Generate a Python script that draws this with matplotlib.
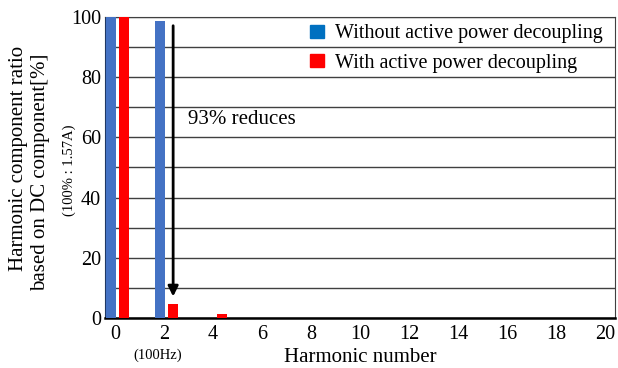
import numpy as np
import matplotlib
matplotlib.use("Agg")
import matplotlib.pyplot as plt
from matplotlib.patches import Patch

plt.rcParams['font.family'] = ['Liberation Serif', 'DejaVu Serif']

harmonics = np.arange(0, 21)
without_apd = [100, 0, 98.5, 0, 0, 0, 0, 0, 0, 0, 0, 0, 0, 0, 0, 0, 0, 0, 0, 0, 0]
with_apd = [100, 0, 4.5, 0, 1.3, 0, 0, 0, 0, 0, 0, 0, 0, 0, 0, 0, 0, 0, 0, 0, 0]
xticks = np.arange(0, 21, 2)

fig = plt.figure(figsize=(6.18, 3.68), dpi=100)
ax = fig.add_axes([0.170, 0.136, 0.825, 0.818])

blue = '#4472C4'
red = '#FF0000'
w = 0.43
ax.bar(harmonics - 0.17, without_apd, width=w, color=blue, zorder=3)
ax.bar(harmonics + 0.37, with_apd, width=w, color=red, zorder=3)

fs = 14.5
ax.set_xlim(-0.41, 20.41)
ax.set_ylim(0, 100)
ax.set_yticks(np.arange(0, 101, 20))
ax.set_yticks(np.arange(0, 101, 10), minor=True)
ax.set_xticks(xticks)
ax.grid(axis='y', which='both', color='#404040', linewidth=1.0, zorder=0)
ax.tick_params(axis='x', length=0, labelsize=fs, pad=5)
ax.tick_params(axis='y', which='both', length=0, labelsize=fs, pad=3)
for s in ['top', 'right']:
    ax.spines[s].set_color('#404040')
ax.spines['left'].set_color('#1F3864')
ax.spines['bottom'].set_color('black')
ax.spines['bottom'].set_linewidth(1.8)

# arrow and annotation
ax.annotate('', xy=(2.37, 6.2), xytext=(2.37, 98),
            arrowprops=dict(arrowstyle='-|>,head_width=0.3,head_length=0.6',
                            color='black', lw=2), zorder=4)
ax.text(2.98, 66, '93% reduces', fontsize=15, va='center', ha='left')

handles = [Patch(color='#0070C0', label='Without active power decoupling'),
           Patch(color=red, label='With active power decoupling')]
ax.legend(handles=handles, loc='upper right', bbox_to_anchor=(1.0, 1.015),
          frameon=False, fontsize=fs, handlelength=0.7, handleheight=0.65,
          handletextpad=0.55, labelspacing=0.5, borderaxespad=0.2)

ax.set_xlabel('Harmonic number', fontsize=15, labelpad=3)
fig.text(19 / 618, 1 - 158 / 368, 'Harmonic component ratio', rotation=90,
         fontsize=15, ha='center', va='center')
fig.text(41 / 618, 1 - 172 / 368, 'based on DC component[%]', rotation=90,
         fontsize=15, ha='center', va='center')
fig.text(69 / 618, 1 - 170 / 368, '(100% : 1.57A)', rotation=90,
         fontsize=10.5, ha='center', va='center')
fig.text(158 / 618, 1 - 355 / 368, '(100Hz)', fontsize=10.5,
         ha='center', va='center')

fig.savefig('out.png', dpi=100)
